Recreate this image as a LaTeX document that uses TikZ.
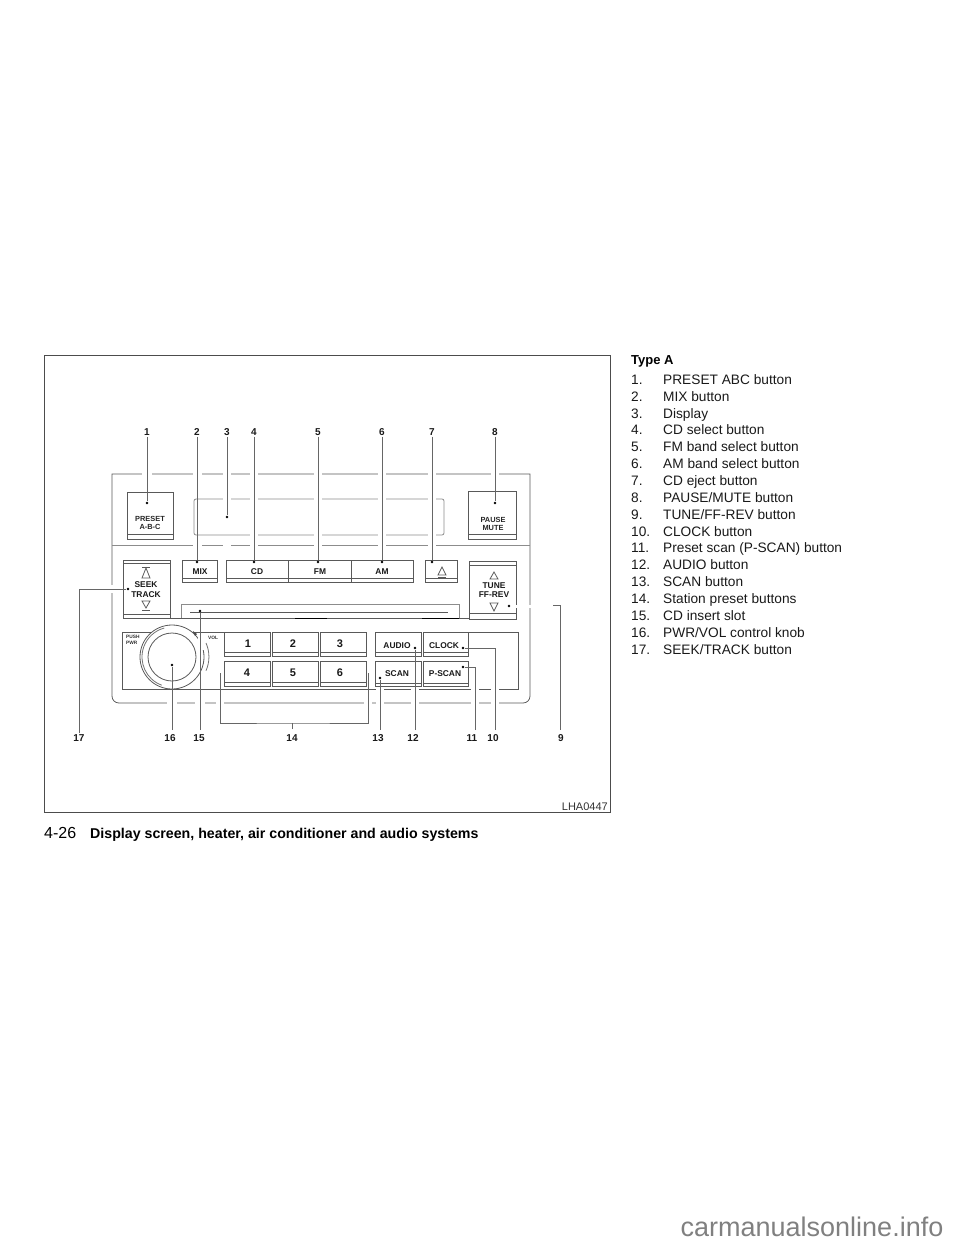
\documentclass[tikz,border=0pt]{standalone}
\usepackage{fontspec}
\setmainfont{Liberation Sans}
\definecolor{linegray}{gray}{0.35}
\tikzset{
  btnbox/.style={draw=linegray, line width=0.8pt, fill=white},
  btnline/.style={draw=linegray, line width=0.8pt},
  halo/.style={draw=white, line width=1.8pt},
  tinytxt/.style={inner sep=0pt, font=\fontsize{4.8}{5}\selectfont\bfseries, text=black!80},
  smalltxt/.style={inner sep=0pt, align=center, font=\fontsize{7.4}{8}\selectfont\bfseries, text=black!85},
  midtxt/.style={inner sep=0pt, align=center, font=\fontsize{8.4}{9.5}\selectfont\bfseries, text=black!90},
  numtxt/.style={inner sep=0pt, font=\fontsize{11}{11}\selectfont\bfseries, text=black!90},
  calloutnum/.style={inner sep=1pt, font=\fontsize{10}{10}\selectfont\bfseries, text=black!90},
  pointdot/.style={circle, fill=black, minimum size=2.8pt, inner sep=0pt},
  leader/.style={draw=black!60, line width=0.8pt},
  itemnum/.style={anchor=base west, inner sep=0pt, font=\fontsize{13.7}{14}\selectfont, text=black!90},
  itemtxt/.style={anchor=base west, inner sep=0pt, font=\fontsize{13.7}{14}\selectfont, text=black!90}
}
\begin{document}
\begin{tikzpicture}[x=1pt, y=-1pt]
  \useasboundingbox (0,0) rectangle (960,1242);
  % figure frame
  \draw[draw=black!70, line width=1pt] (44,355) rectangle (610,812);
  \node[anchor=south east, inner sep=1pt, font=\fontsize{11}{11}\selectfont, text=black!80] (code) at (609,812) {LHA0447};
  % radio body
  \draw[btnline] (530,474) -- (530,696) .. controls (530,700) and (527,703) .. (523,703) -- (119,703) .. controls (115,703) and (112,700) .. (112,696) -- (112,474) -- cycle;
  \draw[btnline, draw=black!45] (112,545) -- (530,545);
  % display
  \draw[btnline, draw=black!45, rounded corners=2pt] (194,499) -- (444,499) -- (444,535) -- (194,535) -- cycle;
  % upper buttons
  \draw[btnbox] (127,492) rectangle (173,539);
  \draw[btnline] (127,534) -- (173,534);
  \draw[btnbox] (468,491) rectangle (516,539);
  \draw[btnline] (468,534) -- (516,534);
  \node[smalltxt] (preset) at (150,523) {PRESET\\A-B-C};
  \node[smalltxt] (pause) at (493,524) {PAUSE\\MUTE};
  % band row
  \draw[btnbox] (182,560) rectangle (217,582);
  \draw[btnline] (182,578) -- (217,578);
  \draw[btnbox] (226,560) rectangle (413,582);
  \draw[btnline] (288,560) -- (288,582);
  \draw[btnline] (351,560) -- (351,582);
  \draw[btnline] (226,578) -- (413,578);
  \draw[btnbox] (425,560) rectangle (457,582);
  \draw[btnline] (425,578) -- (457,578);
  \node[midtxt] (mix) at (200,572) {MIX};
  \node[midtxt] (cd) at (257,572) {CD};
  \node[midtxt] (fm) at (320,572) {FM};
  \node[midtxt] (am) at (382,572) {AM};
  \draw[btnline] (442,567) -- (438,575) -- (446,575) -- cycle;
  \draw[btnline] (438,577) -- (446,577);
  % seek and tune
  \draw[btnbox] (123,560) rectangle (170,618);
  \draw[btnline] (123,563) -- (170,563);
  \draw[btnline] (123,614) -- (170,614);
  \draw[btnline] (142,567) -- (150,567);
  \draw[btnline] (146,568) -- (142,578) -- (150,578) -- cycle;
  \draw[btnline] (146,608) -- (142,601) -- (150,601) -- cycle;
  \draw[btnline] (142,610) -- (150,610);
  \node[midtxt] (seek) at (146,589.5) {SEEK\\TRACK};
  \draw[btnbox] (469,561) rectangle (516,619);
  \draw[btnline] (469,565) -- (516,565);
  \draw[btnline] (469,613) -- (516,613);
  \draw[btnline] (494,572) -- (490,579) -- (498,579) -- cycle;
  \draw[btnline] (494,611) -- (490,603) -- (498,603) -- cycle;
  \node[midtxt] (tune) at (494,590) {TUNE\\FF-REV};
  % cd slot
  \draw[btnline, draw=black!45] (181,618) -- (181,604) -- (459,604) -- (459,618);
  \draw[btnline] (170,618) -- (469,618);
  \draw[btnline, draw=black, line width=1pt] (422,618) -- (459,618);
  \draw[btnline, draw=black, line width=1pt] (295,618) -- (327,618);
  \draw[btnline] (190,612) -- (448,612);
  % lower panel
  \draw[btnline] (468,632) -- (518,632) -- (518,689) -- (122,689) -- (122,632) -- (224,632);
  % knob
  \draw[btnline, fill=white] (172,657) circle (32);
  \draw[btnline, draw=black!55] (172,657) ++(110:30) arc (110:255:30);
  \draw[btnline] (172,657) circle (24);
  \fill[white] (198,636) rectangle (208,650);
  \fill[black!70] (193,631) -- (197,634) -- (195,636) -- cycle;
  \draw[btnline, draw=black!55] (206,643) arc (-24:24:34);
  \node[tinytxt, anchor=west] (push) at (126,637) {PUSH};
  \node[tinytxt, anchor=west] (pwr) at (126,643) {PWR};
  \node[tinytxt] (vol) at (213,638) {VOL};
  % preset buttons
  \draw[btnbox] (224,632) rectangle (270,656);
  \draw[btnline] (224,652) -- (270,652);
  \draw[btnbox] (272,632) rectangle (318,656);
  \draw[btnline] (272,652) -- (318,652);
  \draw[btnbox] (320,632) rectangle (366,656);
  \draw[btnline] (320,652) -- (366,652);
  \draw[btnbox] (224,661) rectangle (270,686);
  \draw[btnline] (224,682) -- (270,682);
  \draw[btnbox] (272,661) rectangle (318,686);
  \draw[btnline] (272,682) -- (318,682);
  \draw[btnbox] (320,661) rectangle (366,686);
  \draw[btnline] (320,682) -- (366,682);
  \node[numtxt] (p1) at (248,644) {1};
  \node[numtxt] (p2) at (293,644) {2};
  \node[numtxt] (p3) at (340,644) {3};
  \node[numtxt] (p4) at (247,673) {4};
  \node[numtxt] (p5) at (293,673) {5};
  \node[numtxt] (p6) at (340,673) {6};
  % audio block
  \draw[btnbox] (375,632) rectangle (421,656);
  \draw[btnline] (375,652) -- (421,652);
  \draw[btnbox] (423,632) rectangle (468,656);
  \draw[btnline] (423,652) -- (468,652);
  \draw[btnbox] (375,661) rectangle (421,686);
  \draw[btnline] (375,683) -- (421,683);
  \draw[btnbox] (423,661) rectangle (468,686);
  \draw[btnline] (423,683) -- (468,683);
  \node[midtxt] (audio) at (397,646) {AUDIO};
  \node[midtxt] (clock) at (444,646) {CLOCK};
  \node[midtxt] (scan) at (397,674) {SCAN};
  \node[midtxt] (pscan) at (445,674) {P-SCAN};
  % gaps where leaders cross the body
  \draw[halo] (142,474) -- (152,474) (193,474) -- (202,474) (223,474) -- (231,474) (250,474) -- (258,474)
    (314,474) -- (322,474) (378,474) -- (386,474) (428,474) -- (436,474) (491,474) -- (499,474);
  \draw[halo] (193,545) -- (202,545) (223,545) -- (231,545) (250,545) -- (258,545) (314,545) -- (322,545)
    (378,545) -- (386,545) (428,545) -- (436,545);
  \draw[halo] (223,499) -- (231,499) (250,499) -- (258,499) (314,499) -- (322,499) (378,499) -- (386,499) (428,499) -- (436,499);
  \draw[halo] (250,535) -- (258,535) (314,535) -- (322,535) (378,535) -- (386,535) (428,535) -- (436,535);
  \draw[halo] (167,703) -- (177,703) (195,703) -- (205,703) (216,703) -- (224,703) (364,703) -- (372,703)
    (376,703) -- (384,703) (411,703) -- (419,703) (471,703) -- (479,703) (491,703) -- (499,703);
  \draw[halo] (376,689) -- (384,689) (411,689) -- (419,689) (471,689) -- (479,689) (491,689) -- (499,689);
  \draw[halo] (112,585) -- (112,593);
  % callout numbers
  \node[calloutnum] (l1) at (147,432) {1};
  \node[calloutnum] (l2) at (197,432) {2};
  \node[calloutnum] (l3) at (227,432) {3};
  \node[calloutnum] (l4) at (254,432) {4};
  \node[calloutnum] (l5) at (318,432) {5};
  \node[calloutnum] (l6) at (382,432) {6};
  \node[calloutnum] (l7) at (432,432) {7};
  \node[calloutnum] (l8) at (495,432) {8};
  \node[calloutnum] (l9) at (561,738) {9};
  \node[calloutnum] (l10) at (493,738) {10};
  \node[calloutnum] (l11) at (472,738) {11};
  \node[calloutnum] (l12) at (413,738) {12};
  \node[calloutnum] (l13) at (378,738) {13};
  \node[calloutnum] (l14) at (292,738) {14};
  \node[calloutnum] (l15) at (199,738) {15};
  \node[calloutnum] (l16) at (170,738) {16};
  \node[calloutnum] (l17) at (79,738) {17};
  % points
  \node[pointdot] (d1) at (147,503) {};
  \node[pointdot] (d2) at (197,562) {};
  \node[pointdot] (d3) at (227,517) {};
  \node[pointdot] (d4) at (254,562) {};
  \node[pointdot] (d5) at (318,562) {};
  \node[pointdot] (d6) at (382,562) {};
  \node[pointdot] (d7) at (432,562) {};
  \node[pointdot] (d8) at (495,503) {};
  \node[pointdot] (d9) at (509,606) {};
  \node[pointdot] (d10) at (463,648) {};
  \node[pointdot] (d11) at (463,667) {};
  \node[pointdot] (d12) at (415,648) {};
  \node[pointdot] (d13) at (380,678) {};
  \node[pointdot] (d15) at (200,611) {};
  \node[pointdot] (d16) at (172,665) {};
  \node[pointdot] (d17) at (128,589) {};
  \coordinate (e9) at (560,730);
  \coordinate (c9) at (553,605);
  \coordinate (e10) at (495,730);
  \coordinate (e11) at (475,730);
  \coordinate (e12) at (415,730);
  \coordinate (e13) at (380,730);
  \coordinate (e14) at (292,729);
  \coordinate (e15) at (200,730);
  \coordinate (e16) at (172,730);
  \coordinate (b14a) at (220,673);
  \coordinate (b14b) at (368,673);
  % leaders
  \draw[leader] (l1) -- (d1);
  \draw[leader] (l2) -- (d2);
  \draw[leader] (l3) -- (d3);
  \draw[leader] (l4) -- (d4);
  \draw[leader] (l5) -- (d5);
  \draw[leader] (l6) -- (d6);
  \draw[leader] (l7) -- (d7);
  \draw[leader] (l8) -- (d8);
  \draw[white, line width=3pt] (d9) -- (544,606);
  \draw[leader] (e9) |- (c9);
  \draw[leader] (e10) |- (d10);
  \draw[leader] (e11) |- (d11);
  \draw[leader] (e12) -- (d12);
  \draw[leader] (e13) -- (d13);
  \draw[leader] (b14a) |- (292,723) -| (b14b);
  \draw[leader] (e14) -- (292,723);
  \draw[leader] (e15) -- (d15);
  \draw[leader] (e16) -- (d16);
  \draw[leader] (l17) |- (d17);
  % list
  \node[anchor=base west, inner sep=0pt, font=\fontsize{13}{13}\selectfont\bfseries] (typea) at (631,364) {Type A};
  \node[itemnum] (n1) at (631,384.3) {1.};
  \node[itemtxt] (t1) at (663,384.3) {PRESET ABC button};
  \node[itemnum] (n2) at (631,401.2) {2.};
  \node[itemtxt] (t2) at (663,401.2) {MIX button};
  \node[itemnum] (n3) at (631,418) {3.};
  \node[itemtxt] (t3) at (663,418) {Display};
  \node[itemnum] (n4) at (631,434.9) {4.};
  \node[itemtxt] (t4) at (663,434.9) {CD select button};
  \node[itemnum] (n5) at (631,451.7) {5.};
  \node[itemtxt] (t5) at (663,451.7) {FM band select button};
  \node[itemnum] (n6) at (631,468.6) {6.};
  \node[itemtxt] (t6) at (663,468.6) {AM band select button};
  \node[itemnum] (n7) at (631,485.5) {7.};
  \node[itemtxt] (t7) at (663,485.5) {CD eject button};
  \node[itemnum] (n8) at (631,502.3) {8.};
  \node[itemtxt] (t8) at (663,502.3) {PAUSE/MUTE button};
  \node[itemnum] (n9) at (631,519.2) {9.};
  \node[itemtxt] (t9) at (663,519.2) {TUNE/FF-REV button};
  \node[itemnum] (n10) at (631,536) {10.};
  \node[itemtxt] (t10) at (663,536) {CLOCK button};
  \node[itemnum] (n11) at (631,552.9) {11.};
  \node[itemtxt] (t11) at (663,552.9) {Preset scan (P-SCAN) button};
  \node[itemnum] (n12) at (631,569.7) {12.};
  \node[itemtxt] (t12) at (663,569.7) {AUDIO button};
  \node[itemnum] (n13) at (631,586.6) {13.};
  \node[itemtxt] (t13) at (663,586.6) {SCAN button};
  \node[itemnum] (n14) at (631,603.5) {14.};
  \node[itemtxt] (t14) at (663,603.5) {Station preset buttons};
  \node[itemnum] (n15) at (631,620.3) {15.};
  \node[itemtxt] (t15) at (663,620.3) {CD insert slot};
  \node[itemnum] (n16) at (631,637.2) {16.};
  \node[itemtxt] (t16) at (663,637.2) {PWR/VOL control knob};
  \node[itemnum] (n17) at (631,654) {17.};
  \node[itemtxt] (t17) at (663,654) {SEEK/TRACK button};
  % footer
  \node[anchor=base west, inner sep=0pt, font=\fontsize{16}{16}\selectfont] (page) at (44,838.5) {4-26};
  \node[anchor=base west, inner sep=0pt, font=\fontsize{14.2}{14}\selectfont\bfseries] (title) at (90,838.5) {Display screen, heater, air conditioner and audio systems};
  \node[inner sep=0pt, font=\fontsize{27}{27}\selectfont, text=black!50] (site) at (812,1227) {carmanualsonline.info};
\end{tikzpicture}
\end{document}
